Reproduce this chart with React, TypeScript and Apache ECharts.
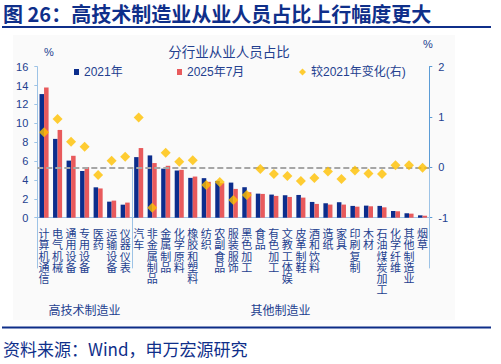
import React, { useEffect, useRef } from "react";
import * as echarts from "echarts";

const categories = ["计算机通信","电气机械","通用设备","专用设备","医药","运输设备","仪器仪表","汽车","非金属制品","金属制品","化学原料","橡胶和塑料","纺织","农副食品","服装服饰","黑色加工","食品","有色加工","文教工体娱","皮革制鞋","酒和饮料","造纸","家具","印刷复制","木材","石油煤炭加工","化学纤维","其他制造业","烟草"];
const share2021 = [13.1, 8.35, 6.05, 4.95, 3.22, 1.7, 1.38, 6.42, 6.6, 5.2, 5.0, 4.22, 4.19, 3.9, 3.72, 3.23, 2.55, 2.45, 2.38, 2.41, 1.67, 1.53, 1.64, 1.25, 1.28, 1.25, 0.71, 0.47, 0.25];
const share2025 = [13.8, 9.3, 6.56, 5.36, 3.1, 1.81, 1.6, 7.38, 5.79, 5.5, 5.07, 4.36, 3.8, 3.66, 3.05, 2.7, 2.52, 2.31, 2.2, 2.13, 1.46, 1.39, 1.39, 1.17, 1.21, 1.1, 0.68, 0.43, 0.21];
const change = [0.70, 0.96, 0.51, 0.41, -0.15, 0.13, 0.21, 0.99, -0.80, 0.29, 0.11, 0.14, -0.35, -0.29, -0.65, -0.55, -0.03, -0.13, -0.17, -0.27, -0.21, -0.08, -0.23, -0.06, -0.12, -0.13, 0.04, 0.04, -0.01];
const groupNames = ["高技术制造业", "其他制造业"];
const groupSizes = [7, 22];
const seriesNames = ["2021年", "2025年7月", "较2021年变化(右)"];

const FONT = '"Noto Sans CJK SC", "Noto Sans", sans-serif';
const NUMFONT = '"Liberation Sans", "Noto Sans CJK SC", sans-serif';
const NAVY = "#0f2f8a";
const TXT = "#23408f";
const AXIS = "#9dc3e6";

export default function App() {
  const ref = useRef<HTMLDivElement>(null);
  useEffect(() => {
    if (!ref.current) return;
    const chart = echarts.init(ref.current, null, { renderer: "svg" });
    const bounds: number[] = [0];
    groupSizes.forEach((s) => bounds.push(bounds[bounds.length - 1] + s));
    const centers = groupSizes.map((s, i) => bounds[i] + s / 2);
    const total = bounds[bounds.length - 1];

    const option: any = {
      animation: false,
      backgroundColor: "#ffffff",
      grid: { left: 37.3, right: 71.7, top: 66.7, height: 151 },
      legend: [
        { data: [seriesNames[0]], left: 74, top: 66 },
        { data: [seriesNames[1]], left: 177, top: 66 },
        { data: [seriesNames[2]], left: 299, top: 66 },
      ].map((l, i) => ({
        ...l,
        itemWidth: i === 2 ? 7 : 5,
        itemHeight: i === 2 ? 7 : 6,
        icon: i === 2 ? "diamond" : "rect",
        padding: 0,
        textStyle: { color: TXT, fontSize: 12, fontFamily: NUMFONT },
      })),
      xAxis: [
        {
          type: "category",
          data: categories,
          axisLine: { lineStyle: { color: AXIS, width: 1 } },
          axisTick: { interval: 0, length: 75, lineStyle: { color: AXIS, width: 1 } },
          axisLabel: {
            interval: 0,
            margin: 10,
            fontSize: 11,
            lineHeight: 11.2,
            color: TXT,
            fontFamily: FONT,
            verticalAlign: "top",
            formatter: (v: string) => v.split("").join("\n"),
          },
        },
        {
          type: "value",
          min: 0,
          max: total,
          position: "bottom",
          axisLine: { show: false },
          splitLine: { show: false },
          axisTick: { show: true, customValues: bounds, length: 101, lineStyle: { color: AXIS, width: 1 } },
          axisLabel: {
            customValues: centers,
            margin: 86,
            fontSize: 12,
            color: TXT,
            fontFamily: FONT,
            formatter: (v: number) => {
              const idx = centers.indexOf(v);
              return idx >= 0 ? groupNames[idx] : "";
            },
          },
        },
      ],
      yAxis: [
        {
          type: "value",
          min: 0,
          max: 16,
          interval: 2,
          axisLine: { show: true, lineStyle: { color: AXIS } },
          axisTick: { show: true, length: 3, lineStyle: { color: AXIS } },
          splitLine: { show: false },
          axisLabel: { color: TXT, fontSize: 11, margin: 9, fontFamily: NUMFONT },
        },
        {
          type: "value",
          min: -1,
          max: 2,
          interval: 1,
          position: "right",
          axisLine: { show: true, lineStyle: { color: "#5b9bd5" } },
          axisTick: { show: true, length: 3, lineStyle: { color: "#5b9bd5" } },
          splitLine: { show: false },
          axisLabel: { color: TXT, fontSize: 11, margin: 9, fontFamily: NUMFONT },
        },
      ],
      series: [
        {
          name: seriesNames[0],
          type: "bar",
          data: share2021,
          barGap: "0%",
          barCategoryGap: "33%",
          itemStyle: { color: "#0c2d8c" },
        },
        {
          name: seriesNames[1],
          type: "bar",
          data: share2025,
          itemStyle: { color: "#e85a5c" },
        },
        {
          name: seriesNames[2],
          type: "scatter",
          yAxisIndex: 1,
          data: change,
          symbol: "diamond",
          symbolSize: 10,
          itemStyle: { color: "#ffc000" },
          z: 5,
          markLine: {
            silent: true,
            symbol: "none",
            label: { show: false },
            lineStyle: { color: "#a6a6a6", type: [6, 3], width: 2 },
            data: [{ yAxis: 0 }],
          },
        },
      ],
      graphic: [
        { type: "rect", z: -100, shape: { x: 13, y: 35, width: 442, height: 285 }, style: { fill: "#fafafa" } },
        { type: "text", x: 3, y: 13, style: { text: "图 26：高技术制造业从业人员占比上行幅度更大", fill: NAVY, font: `bold 20px ${FONT}`, verticalAlign: "middle" } },
        { type: "rect", shape: { x: 2, y: 26, width: 489, height: 2 }, style: { fill: NAVY } },
        { type: "text", x: 229, y: 51, style: { text: "分行业从业人员占比", fill: TXT, font: `13.5px ${FONT}`, align: "center", verticalAlign: "middle" } },
        { type: "text", x: 49, y: 52, style: { text: "%", fill: TXT, font: `11px ${NUMFONT}`, align: "center", verticalAlign: "middle" } },
        { type: "text", x: 428, y: 44, style: { text: "%", fill: TXT, font: `11px ${NUMFONT}`, align: "center", verticalAlign: "middle" } },
        { type: "rect", shape: { x: 2, y: 326.5, width: 489, height: 2 }, style: { fill: NAVY } },
        { type: "text", x: 3, y: 348.5, style: { text: "资料来源：Wind，申万宏源研究", fill: NAVY, font: `17px ${FONT}`, verticalAlign: "middle" } },
      ],
    };
    chart.setOption(option);
    return () => chart.dispose();
  }, []);
  return <div ref={ref} style={{ position: "absolute", left: 0, top: 0, width: 501, height: 364 }} />;
}
